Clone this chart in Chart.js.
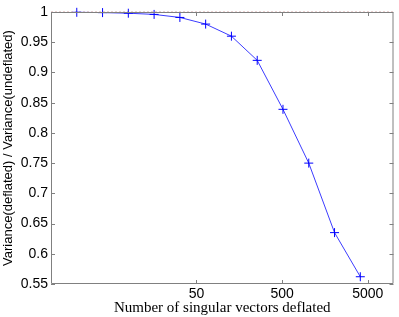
<!DOCTYPE html>
<html>
<head>
<meta charset="utf-8">
<script src="https://cdn.jsdelivr.net/npm/chart.js@4/dist/chart.umd.min.js"></script>
<style>
  html, body { margin: 0; padding: 0; background: #fff; }
  canvas { display: block; }
</style>
</head>
<body>
<canvas id="myChart" width="399" height="317"></canvas>
<script>
// data
const vectorsDeflated = [2, 4, 8, 16, 32, 64, 128, 256, 512, 1024, 2048, 4096]
const varianceRatio = [0.9995, 0.999, 0.998, 0.996, 0.991, 0.980, 0.960, 0.920, 0.839, 0.750, 0.635, 0.562]
const xTicks = [50, 500, 5000]
const yTicks = [0.55, 0.6, 0.65, 0.7, 0.75, 0.8, 0.85, 0.9, 0.95, 1]
const refLineX = [1, 10000]
const refLineY = [1, 1]

const blue = '#3c3cff'
const axisGrey = '#808080'

// matlab style ticks pointing into the plot, on all four sides
const innerTicks = {
  id: 'innerTicks',
  afterDraw(chart) {
    const { ctx, chartArea: a, scales } = chart
    ctx.save()
    ctx.strokeStyle = axisGrey
    ctx.lineWidth = 1
    ctx.beginPath()
    ctx.rect(a.left + 0.5, a.top + 0.5, a.right - a.left - 1, a.bottom - a.top - 1)
    xTicks.forEach(v => {
      const x = Math.round(scales.x.getPixelForValue(v)) + 0.5
      ctx.moveTo(x, a.bottom); ctx.lineTo(x, a.bottom - 4)
      ctx.moveTo(x, a.top); ctx.lineTo(x, a.top + 4)
    })
    yTicks.forEach(v => {
      const y = Math.round(scales.y.getPixelForValue(v)) + 0.5
      ctx.moveTo(a.left, y); ctx.lineTo(a.left + 4, y)
      ctx.moveTo(a.right, y); ctx.lineTo(a.right - 4, y)
    })
    ctx.stroke()
    ctx.restore()
  }
}

const ctx = document.getElementById('myChart').getContext('2d')
const myChart = new Chart(ctx, {
  type: 'line',
  data: {
    datasets: [{
      data: vectorsDeflated.map((v, i) => ({ x: v, y: varianceRatio[i] })),
      borderColor: blue,
      backgroundColor: blue,
      borderWidth: 1,
      pointStyle: 'cross',
      pointRadius: 4.5,
      pointBorderWidth: 1,
      pointBorderColor: '#0000ff',
      tension: 0,
      clip: false
    }, {
      data: refLineX.map((v, i) => ({ x: v, y: refLineY[i] })),
      borderColor: 'rgba(190,110,110,0.6)',
      borderDash: [2, 2],
      borderWidth: 1,
      pointRadius: 0,
      clip: false
    }]
  },
  options: {
    responsive: false,
    animation: false,
    layout: { padding: { left: 1, right: 3, top: 12, bottom: 0 } },
    scales: {
      x: {
        type: 'logarithmic',
        min: 1,
        max: 10000,
        afterBuildTicks: s => { s.ticks = xTicks.map(v => ({ value: v })) },
        afterFit: s => { s.height = 33 },
        ticks: {
          autoSkip: false,
          maxRotation: 0,
          padding: 2,
          color: '#000',
          font: { family: 'Liberation Sans', size: 14 },
          callback: v => String(v)
        },
        grid: { drawOnChartArea: false, drawTicks: false },
        border: { display: false },
        title: {
          display: true,
          text: 'Number of singular vectors deflated',
          color: '#000',
          font: { family: 'Liberation Serif', size: 15 },
          padding: { top: -3, bottom: 0 }
        }
      },
      y: {
        min: 0.55,
        max: 1,
        afterBuildTicks: s => { s.ticks = yTicks.map(v => ({ value: v })) },
        afterFit: s => { s.width = 50 },
        ticks: {
          autoSkip: false,
          padding: 3,
          color: '#000',
          font: { family: 'Liberation Sans', size: 14 },
          callback: v => String(+v.toFixed(2))
        },
        grid: { drawOnChartArea: false, drawTicks: false },
        border: { display: false },
        title: {
          display: true,
          text: 'Variance(deflated) / Variance(undeflated)',
          color: '#000',
          font: { family: 'Liberation Sans', size: 13 },
          padding: { top: 0, bottom: 0 }
        }
      }
    },
    plugins: {
      legend: { display: false },
      tooltip: { enabled: false }
    }
  },
  plugins: [innerTicks]
})
</script>
</body>
</html>
